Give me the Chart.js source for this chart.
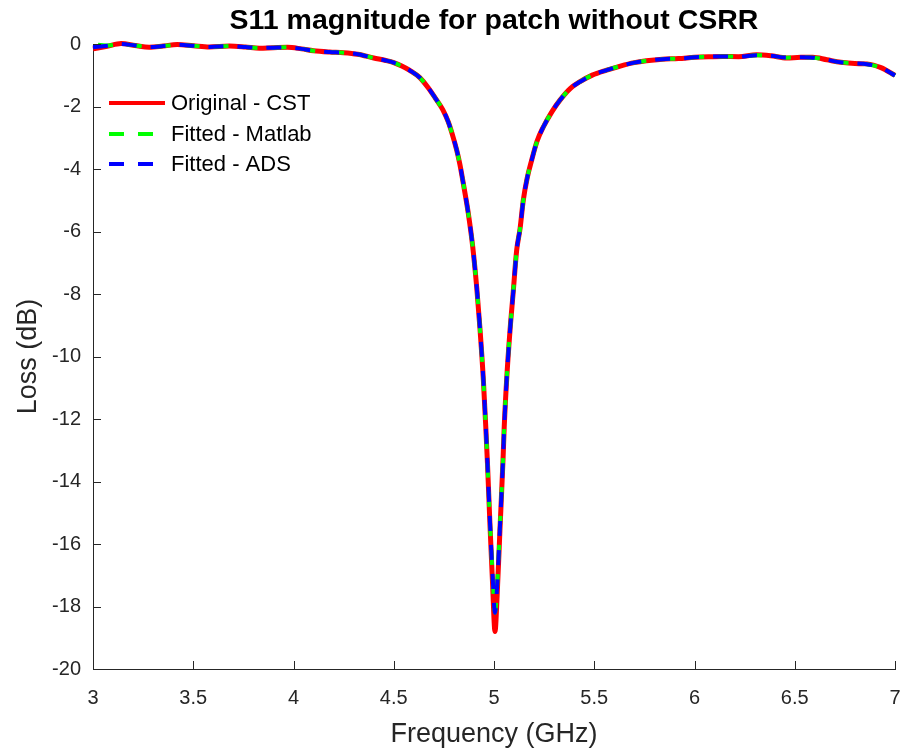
<!DOCTYPE html>
<html>
<head>
<meta charset="utf-8">
<script src="https://cdn.jsdelivr.net/npm/chart.js@4.4.0/dist/chart.umd.min.js"></script>
<style>
  body { margin: 0; background: #fff; }
  #wrap { width: 914px; height: 751px; }
</style>
</head>
<body>
<div id="wrap"><canvas id="myChart"></canvas></div>
<script>
// frequency points (GHz)
var freq = [3.00, 3.07, 3.14, 3.21, 3.28, 3.35, 3.42, 3.50, 3.58, 3.68, 3.76, 3.83, 3.90, 3.97,
  4.04, 4.10, 4.18, 4.25, 4.32, 4.40, 4.46, 4.50, 4.54, 4.58, 4.63, 4.67, 4.714, 4.745, 4.772,
  4.795, 4.814, 4.83, 4.847, 4.872, 4.894, 4.914, 4.93, 4.947, 4.959, 4.968, 4.98, 4.993, 5.005,
  5.016, 5.03, 5.045, 5.051, 5.063, 5.08, 5.095, 5.113, 5.13, 5.146, 5.165, 5.188, 5.215, 5.246,
  5.29, 5.329, 5.38, 5.429, 5.49, 5.562, 5.63, 5.70, 5.76, 5.84, 5.92, 6.00, 6.07, 6.14, 6.22,
  6.31, 6.38, 6.46, 6.53, 6.59, 6.66, 6.73, 6.80, 6.86, 6.93, 7.00];

// S11 (dB)
var cst = [-0.15, -0.07, 0.02, -0.04, -0.10, -0.06, -0.01, -0.05, -0.09, -0.06, -0.09, -0.13, -0.11, -0.10,
  -0.15, -0.21, -0.25, -0.27, -0.32, -0.44, -0.52, -0.59, -0.70, -0.84, -1.07, -1.38, -1.79, -2.10, -2.49,
  -2.95, -3.39, -3.85, -4.46, -5.42, -6.49, -7.8, -9.1, -10.75, -12.25, -13.5, -15.4, -17.3, -18.8,
  -17.6, -15.5, -13.3, -12.25, -10.75, -9.15, -8.0, -6.6, -5.9, -5.0, -4.3, -3.71, -3.1, -2.65,
  -2.15, -1.79, -1.42, -1.20, -0.99, -0.83, -0.70, -0.59, -0.53, -0.48, -0.46, -0.42, -0.40, -0.39, -0.40,
  -0.34, -0.37, -0.44, -0.42, -0.42, -0.50, -0.58, -0.62, -0.63, -0.75, -1.0];

var matlab = [0.0, -0.04, 0.01, -0.04, -0.09, -0.06, -0.02, -0.05, -0.09, -0.06, -0.09, -0.12, -0.11, -0.10,
  -0.15, -0.21, -0.25, -0.27, -0.32, -0.44, -0.52, -0.59, -0.70, -0.84, -1.07, -1.38, -1.79, -2.10, -2.49,
  -2.95, -3.39, -3.85, -4.46, -5.42, -6.49, -7.8, -9.1, -10.75, -12.25, -13.5, -15.3, -17.0, -18.2,
  -17.3, -15.4, -13.3, -12.25, -10.75, -9.15, -8.0, -6.6, -5.9, -5.0, -4.3, -3.71, -3.1, -2.65,
  -2.15, -1.79, -1.42, -1.20, -0.99, -0.83, -0.70, -0.59, -0.53, -0.48, -0.46, -0.42, -0.40, -0.39, -0.40,
  -0.35, -0.37, -0.43, -0.42, -0.43, -0.50, -0.58, -0.61, -0.64, -0.75, -1.0];

var ads = [-0.1, -0.05, 0.01, -0.04, -0.09, -0.06, -0.02, -0.05, -0.09, -0.06, -0.09, -0.12, -0.11, -0.10,
  -0.15, -0.21, -0.25, -0.27, -0.32, -0.44, -0.52, -0.59, -0.70, -0.84, -1.07, -1.38, -1.79, -2.10, -2.49,
  -2.95, -3.39, -3.85, -4.46, -5.42, -6.49, -7.8, -9.1, -10.75, -12.25, -13.5, -15.3, -17.0, -18.2,
  -17.3, -15.4, -13.3, -12.25, -10.75, -9.15, -8.0, -6.6, -5.9, -5.0, -4.3, -3.71, -3.1, -2.65,
  -2.15, -1.79, -1.42, -1.20, -0.99, -0.83, -0.70, -0.59, -0.53, -0.48, -0.46, -0.42, -0.40, -0.39, -0.40,
  -0.35, -0.37, -0.43, -0.42, -0.43, -0.50, -0.58, -0.61, -0.64, -0.75, -1.0];

var seriesNames = ["Original - CST", "Fitted - Matlab", "Fitted - ADS"];
var seriesColors = ["#ff0000", "#00ff00", "#0000ff"];

function pts(vals) {
  return freq.map(function (f, i) { return { x: f, y: vals[i] }; });
}

var axisColor = "#262626";
var font = "'Liberation Sans', Arial, sans-serif";

// MATLAB style: ticks pointing into the plot + legend inside the axes
var matlabBits = {
  id: "matlabBits",
  afterDraw: function (chart) {
    var ctx = chart.ctx, a = chart.chartArea;
    var xs = chart.scales.x, ys = chart.scales.y;
    ctx.save();
    ctx.strokeStyle = axisColor;
    ctx.lineWidth = 1;
    ctx.beginPath();
    xs.ticks.forEach(function (t) {
      var px = Math.round(xs.getPixelForValue(t.value)) + 0.5;
      ctx.moveTo(px, a.bottom);
      ctx.lineTo(px, a.bottom - 8);
    });
    ys.ticks.forEach(function (t) {
      var py = Math.round(ys.getPixelForValue(t.value)) + 0.5;
      ctx.moveTo(a.left, py);
      ctx.lineTo(a.left + 8, py);
    });
    ctx.stroke();

    // legend
    var rowY = [103, 134, 164];
    ctx.font = "22px " + font;
    ctx.textBaseline = "middle";
    chart.data.datasets.forEach(function (ds, i) {
      ctx.strokeStyle = ds.borderColor;
      ctx.lineWidth = 4;
      ctx.setLineDash(i === 0 ? [] : [15, 14]);
      ctx.beginPath();
      ctx.moveTo(109, rowY[i]);
      ctx.lineTo(165, rowY[i]);
      ctx.stroke();
      ctx.setLineDash([]);
      ctx.fillStyle = "#000";
      ctx.fillText(ds.label, 171, rowY[i] + 1);
    });
    ctx.restore();
  }
};

new Chart("myChart", {
  type: "line",
  data: {
    datasets: [{
      label: seriesNames[0],
      data: pts(cst),
      borderColor: seriesColors[0],
      borderWidth: 5,
      pointRadius: 0,
      cubicInterpolationMode: "monotone",
      clip: false,
      order: 3
    }, {
      label: seriesNames[1],
      data: pts(matlab),
      borderColor: seriesColors[1],
      borderWidth: 4,
      borderDash: [15, 14],
      borderDashOffset: 24,
      pointRadius: 0,
      cubicInterpolationMode: "monotone",
      clip: false,
      order: 2
    }, {
      label: seriesNames[2],
      data: pts(ads),
      borderColor: seriesColors[2],
      borderWidth: 4,
      borderDash: [15, 14],
      pointRadius: 0,
      cubicInterpolationMode: "monotone",
      clip: false,
      order: 1
    }]
  },
  options: {
    responsive: true,
    maintainAspectRatio: false,
    animation: false,
    layout: { padding: { left: 0, right: 19, top: 0, bottom: 0 } },
    plugins: {
      legend: { display: false },
      tooltip: { enabled: false },
      title: {
        display: true,
        fullSize: false,
        text: "S11 magnitude for patch without CSRR",
        color: "#000",
        font: { family: font, size: 28.5, weight: "bold", lineHeight: 1.2 },
        padding: { top: 4, bottom: 6 }
      }
    },
    scales: {
      x: {
        type: "linear",
        min: 3,
        max: 7,
        border: { display: true, color: axisColor, width: 1 },
        grid: { display: false, drawTicks: false },
        ticks: {
          stepSize: 0.5,
          color: axisColor,
          padding: 17,
          maxRotation: 0,
          font: { family: font, size: 20 },
          callback: function (v) { return String(v); }
        },
        title: {
          display: true,
          text: "Frequency (GHz)",
          color: axisColor,
          font: { family: font, size: 27, lineHeight: 1.2 },
          padding: { top: 0, bottom: 0 }
        },
        afterFit: function (s) {
          s.height = 82;
          s.paddingLeft = 0;
          s.paddingRight = 0;
        }
      },
      y: {
        min: -20,
        max: 0,
        border: { display: true, color: axisColor, width: 1 },
        grid: { display: false, drawTicks: false },
        ticks: {
          stepSize: 2,
          color: axisColor,
          padding: 12,
          font: { family: font, size: 20 },
          callback: function (v) { return String(v); }
        },
        title: {
          display: true,
          text: "Loss (dB)",
          color: axisColor,
          font: { family: font, size: 27, lineHeight: 1.2 },
          padding: { top: 12, bottom: 0 }
        },
        afterFit: function (s) { s.width = 93; }
      }
    }
  },
  plugins: [matlabBits]
});
</script>
</body>
</html>
